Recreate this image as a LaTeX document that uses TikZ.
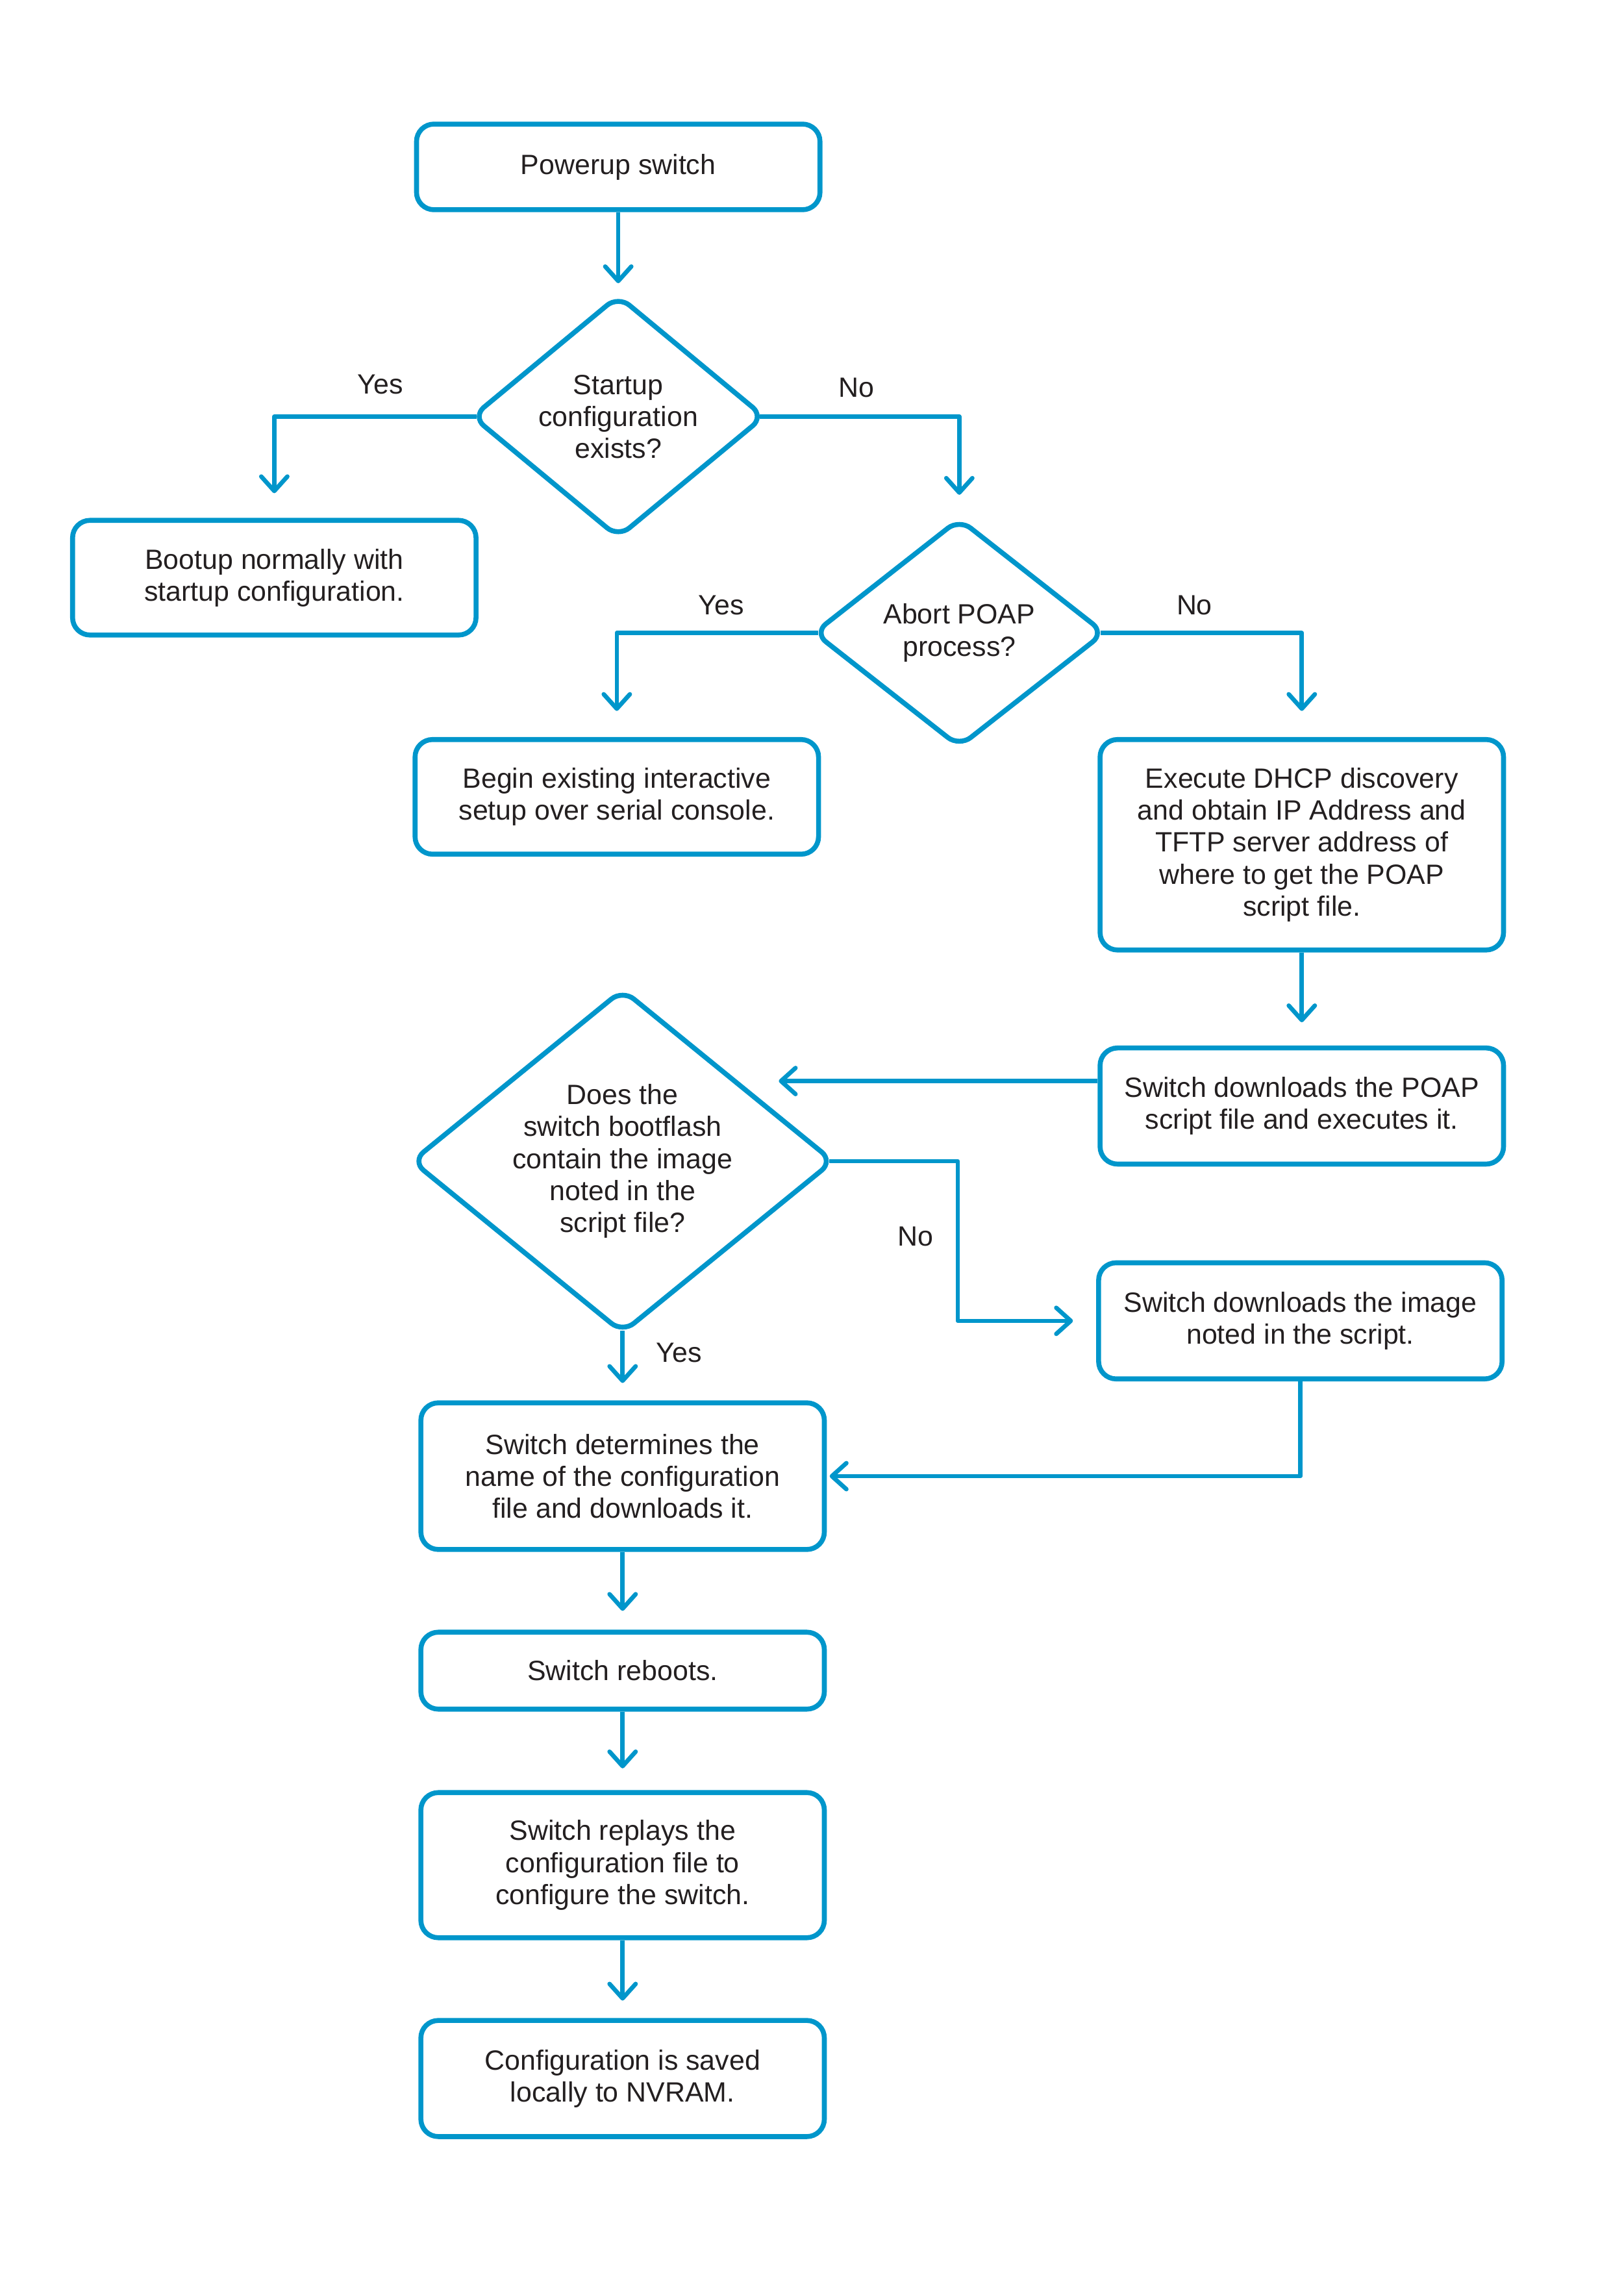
\documentclass[tikz,border=0pt]{standalone}
\usepackage{fontspec}
\setmainfont{Liberation Sans}
\usetikzlibrary{shapes.geometric, arrows.meta, positioning}

\definecolor{poapblue}{RGB}{0,150,203}
\definecolor{poaptext}{RGB}{35,31,32}
\newcommand{\poapfont}{\fontsize{9.6}{11}\selectfont}

\tikzset{
  stepbox/.style={draw=poapblue, line width=1.7pt, rounded corners=6pt, minimum width=139pt,
    align=center, inner sep=0pt, font=\poapfont, text=poaptext},
  decision/.style={draw=poapblue, line width=1.7pt, diamond, rounded corners=5pt,
    align=center, inner sep=0pt, font=\poapfont, text=poaptext},
  flow/.style={draw=poapblue, line width=1.5pt, line join=round,
    -{Straight Barb[length=5pt,width=9pt,round]}},
  answer/.style={font=\poapfont, text=poaptext, inner sep=0pt}
}

\begin{document}
\begin{tikzpicture}[x=0.5pt,y=-0.5pt]
\useasboundingbox (0,0) rectangle (1119,1566);

%Shape: Rounded Rect
\node[stepbox, minimum height=29.5pt] (power) at (426,115) {Powerup switch};
%Flowchart: Decision
\node[decision, minimum width=101pt, minimum height=80pt] (hasconf) at (426,287) {Startup\\configuration\\exists?};
%Shape: Rounded Rect
\node[stepbox, minimum height=39.5pt] (bootup) at (189,398) {Bootup normally with\\startup configuration.};
%Flowchart: Decision
\node[decision, minimum width=100.5pt, minimum height=79pt] (abort) at (661,436) {Abort POAP\\process?};
%Shape: Rounded Rect
\node[stepbox, minimum height=39.5pt] (setup) at (425,549) {Begin existing interactive\\setup over serial console.};
%Shape: Rounded Rect
\node[stepbox, minimum height=72.5pt] (dhcp) at (897,582) {Execute DHCP discovery\\and obtain IP Address and\\TFTP server address of\\where to get the POAP\\script file.};
%Shape: Rounded Rect
\node[stepbox, minimum height=40pt] (script) at (897,762) {Switch downloads the POAP\\script file and executes it.};
%Flowchart: Decision
\node[decision, inner ysep=-5pt, minimum width=145.6pt, minimum height=115pt] (hasimage) at (429,800) {Does the\\switch bootflash\\contain the image\\noted in the\\script file?};
%Shape: Rounded Rect
\node[stepbox, minimum height=40pt] (image) at (896,910) {Switch downloads the image\\noted in the script.};
%Shape: Rounded Rect
\node[stepbox, minimum height=50.5pt] (getconf) at (429,1017) {Switch determines the\\name of the configuration\\file and downloads it.};
%Shape: Rounded Rect
\node[stepbox, minimum height=26.5pt] (reboot) at (429,1151) {Switch reboots.};
%Shape: Rounded Rect
\node[stepbox, minimum height=50pt] (replay) at (429,1285) {Switch replays the\\configuration file to\\configure the switch.};
%Shape: Rounded Rect
\node[stepbox, minimum height=40pt] (saved) at (429,1432) {Configuration is saved\\locally to NVRAM.};

\coordinate (nobend) at (660,910);

%Straight Lines
\draw[flow, shorten >=3.2pt] (power) -- (hasconf);
\draw[flow, shorten <=-2.5pt, shorten >=8.5pt] (hasconf.west) -| (bootup.north);
\draw[flow, shorten <=-2.5pt, shorten >=7.2pt] (hasconf.east) -| (abort.north);
\draw[flow, shorten <=-2.5pt, shorten >=9pt] (abort.west) -| (setup.north);
\draw[flow, shorten <=-2.5pt, shorten >=9pt] (abort.east) -| (dhcp.north);
\draw[flow, shorten >=8pt] (dhcp) -- (script);
\draw[flow, shorten >=17pt] ([yshift=-2.5pt]hasimage.north east -| script.west) -- ([yshift=-2.5pt]hasimage.north east);
\draw[flow, shorten <=-2.5pt, shorten >=8pt] (hasimage.east) -| (nobend) -- (image.west);
\draw[flow, shorten >=1pt] (image.south) |- (getconf.east);
\draw[flow, shorten <=-1.8pt, shorten >=6pt] (hasimage.south) -- (getconf.north);
\draw[flow, shorten >=6.5pt] (getconf) -- (reboot);
\draw[flow, shorten >=7.5pt] (reboot) -- (replay);
\draw[flow, shorten >=6pt] (replay) -- (saved);

% Text Node
\node[answer] (yes1) at (262,265) {Yes};
\node[answer] (no1) at (590,267) {No};
\node[answer] (yes2) at (497,417) {Yes};
\node[answer] (no2) at (823,417) {No};
\node[answer] (no3) at (631,852) {No};
\node[answer] (yes3) at (468,932) {Yes};

\end{tikzpicture}
\end{document}
